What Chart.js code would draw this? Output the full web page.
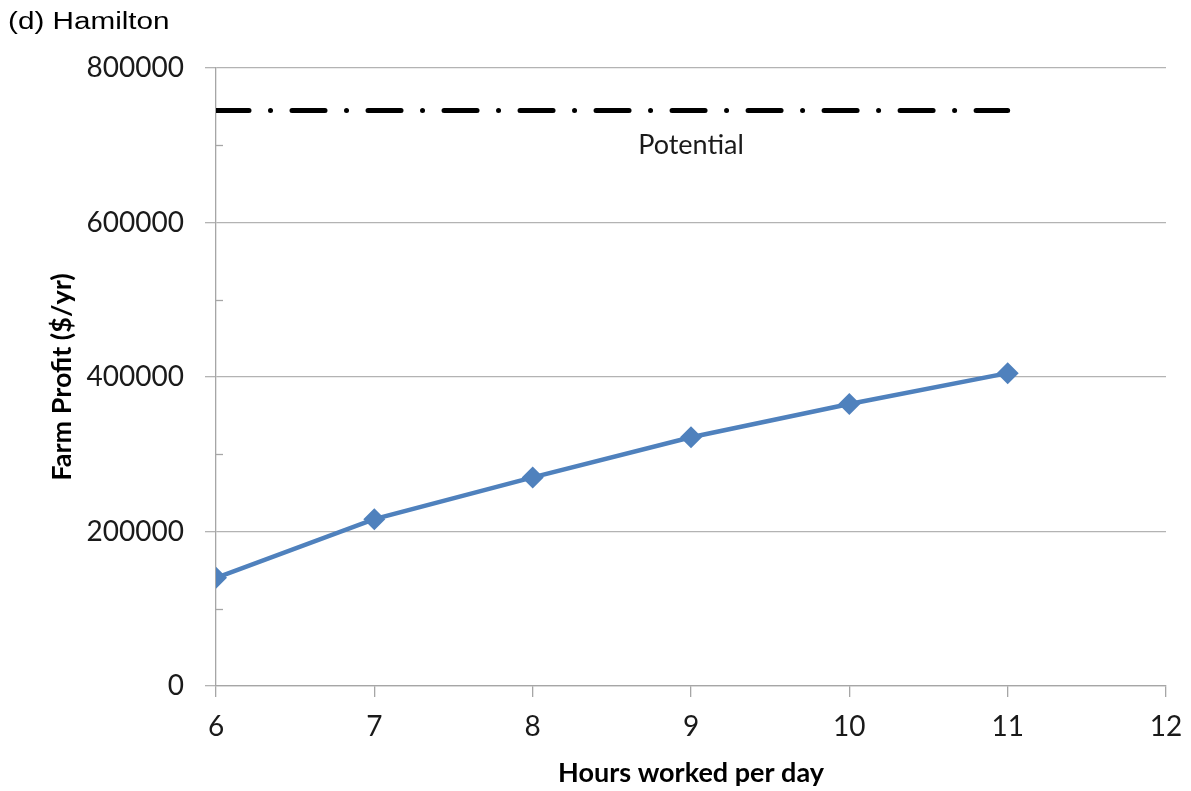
<!DOCTYPE html>
<html>
<head>
<meta charset="utf-8">
<script src="https://cdn.jsdelivr.net/npm/chart.js@4"></script>
<style>
html,body{margin:0;padding:0;background:#fff;}
#wrap{position:relative;width:1191px;height:791px;}
</style>
</head>
<body>
<div id="wrap"><canvas id="c" width="1191" height="791"></canvas></div>
<script>
const hours = [6, 7, 8, 9, 10, 11];
const farmProfit = [140000, 216000, 270000, 322000, 365000, 405000];
const potentialX = [6, 11];
const potentialY = [745000, 745000];
const yTicks = [0, 200000, 400000, 600000, 800000];
const yMinorTicks = [100000, 300000, 500000, 700000];
const xTicks = [6, 7, 8, 9, 10, 11, 12];
const potentialLabel = {x: 9, y: 700000, text: 'Potential'};
const chartTitle = '(d) Hamilton';

const FONT = 'Lato, "Open Sans", sans-serif';

const extras = {
  id: 'extras',
  afterDraw(chart) {
    const ctx = chart.ctx;
    const xs = chart.scales.x, ys = chart.scales.y;
    ctx.save();
    ctx.strokeStyle = '#a6a6a6';
    ctx.lineWidth = 1.3;
    yMinorTicks.forEach(v => {
      const py = Math.round(ys.getPixelForValue(v)) + 0.5;
      ctx.beginPath();
      ctx.moveTo(xs.left, py);
      ctx.lineTo(xs.left + 7, py);
      ctx.stroke();
    });
    ctx.fillStyle = '#1a1a1a';
    ctx.font = '27px ' + FONT;
    ctx.textAlign = 'center';
    ctx.textBaseline = 'middle';
    ctx.fillText(potentialLabel.text, xs.getPixelForValue(potentialLabel.x), ys.getPixelForValue(potentialLabel.y));
    ctx.font = '23px "Liberation Sans", Arial, sans-serif';
    ctx.textAlign = 'left';
    ctx.textBaseline = 'alphabetic';
    ctx.fillStyle = '#000';
    ctx.translate(8, 28.5);
    ctx.scale(1.29, 1);
    ctx.fillText(chartTitle, 0, 0);
    ctx.restore();
  }
};

new Chart(document.getElementById('c'), {
  type: 'line',
  data: {
    datasets: [
      {
        label: 'Farm Profit',
        data: hours.map((h, i) => ({x: h, y: farmProfit[i]})),
        borderColor: '#4f81bd',
        backgroundColor: '#4f81bd',
        borderWidth: 4.5,
        pointStyle: 'rectRot',
        pointRadius: 11,
        pointHoverRadius: 11,
        pointBorderWidth: 0,
        tension: 0,
        fill: false
      },
      {
        label: 'Potential',
        data: potentialX.map((h, i) => ({x: h, y: potentialY[i]})),
        borderColor: '#000',
        borderWidth: 5,
        borderDash: [33, 21.5, 0.01, 21.5],
        borderCapStyle: 'round',
        pointRadius: 0,
        fill: false
      }
    ]
  },
  options: {
    responsive: false,
    animation: false,
    events: [],
    layout: {padding: {top: 68, right: 25, left: 0, bottom: 0}},
    plugins: {legend: {display: false}, tooltip: {enabled: false}, title: {display: false}},
    scales: {
      x: {
        type: 'linear',
        min: 6, max: 12,
        afterBuildTicks: s => { s.ticks = xTicks.map(v => ({value: v})); },
        afterFit: s => { s.height = 105; s.paddingRight = 0; s.paddingLeft = 0; },
        grid: {display: true, drawOnChartArea: false, drawTicks: true, tickLength: 11, color: '#a6a6a6', lineWidth: 1.3},
        border: {display: true, color: '#a6a6a6', width: 1.3},
        ticks: {font: {family: FONT, size: 28}, color: '#1a1a1a', padding: 13, maxRotation: 0, callback: v => String(v)},
        title: {display: true, text: 'Hours worked per day', font: {family: FONT, size: 27, weight: 'bold'}, color: '#000', padding: {top: 0, bottom: 2}}
      },
      y: {
        min: 0, max: 800000,
        afterBuildTicks: s => { s.ticks = yTicks.map(v => ({value: v})); },
        afterFit: s => { s.width = 216; },
        grid: {display: true, drawTicks: true, tickLength: 11, color: '#b3b3b3', lineWidth: 1.3},
        border: {display: true, color: '#a6a6a6', width: 1.3},
        ticks: {font: {family: FONT, size: 28}, color: '#1a1a1a', padding: 21, callback: v => String(v)},
        title: {display: true, text: 'Farm Profit ($/yr)', font: {family: FONT, size: 27, weight: 'bold'}, color: '#000', padding: {top: 46, bottom: 0}}
      }
    }
  },
  plugins: [extras]
});
</script>
</body>
</html>
